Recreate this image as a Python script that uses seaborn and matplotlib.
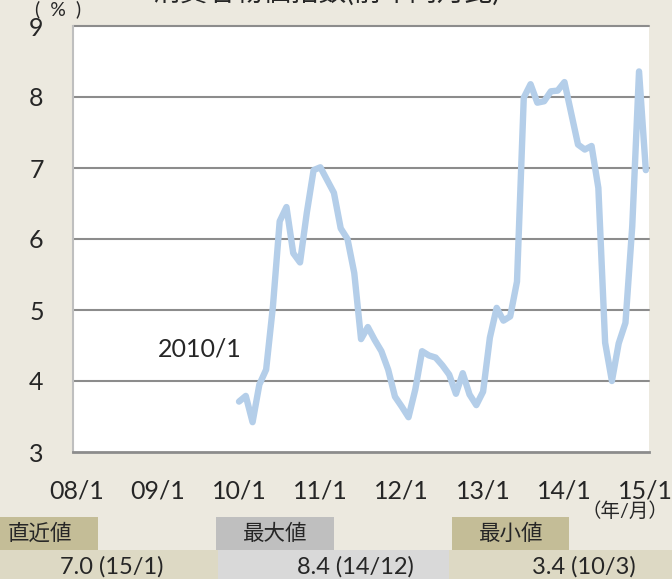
import numpy as np
import pandas as pd
import matplotlib
matplotlib.use('Agg')
import matplotlib.pyplot as plt
from matplotlib.patches import Rectangle
import seaborn as sns

# 横軸のカテゴリ (08/1 ～ 15/1, 月次)
months = pd.date_range('2008-01', '2015-01', freq='MS')
year_labels = ['08/1', '09/1', '10/1', '11/1', '12/1', '13/1', '14/1', '15/1']

# 前年同月比 (%), 2010/1 から
cpi_start = '2010-01'
cpi = [3.71, 3.79, 3.42, 3.95, 4.16, 5.05, 6.25, 6.45, 5.80, 5.67, 6.37, 6.97,   # 2010
       7.01, 6.83, 6.65, 6.15, 6.00, 5.52, 4.59, 4.76, 4.58, 4.42, 4.16, 3.78,    # 2011
       3.64, 3.49, 3.88, 4.42, 4.36, 4.33, 4.22, 4.09, 3.82, 4.11, 3.81, 3.66,    # 2012
       3.85, 4.61, 5.03, 4.85, 4.91, 5.40, 7.99, 8.18, 7.92, 7.94, 8.08, 8.09,    # 2013
       8.21, 7.77, 7.33, 7.26, 7.31, 6.72, 4.54, 4.00, 4.53, 4.82, 6.18, 8.36,    # 2014
       6.97]                                                                      # 2015
stat_labels = ['直近値', '最大値', '最小値']

BG = '#ECE9DF'
W, H = 672, 579

df = pd.DataFrame({'month': pd.date_range(cpi_start, periods=len(cpi), freq='MS'), 'cpi': cpi})
df['pos'] = df['month'].map({m: i for i, m in enumerate(months)})

sns.set_style('white')
plt.rcParams['font.family'] = ['Lato', 'Noto Sans CJK JP', 'DejaVu Sans']

fig = plt.figure(figsize=(W / 100, H / 100), dpi=100, facecolor=BG)
ax = fig.add_axes([72.9 / W, 1 - 452 / H, (649.2 - 72.9) / W, (452 - 26) / H])
ax.set_facecolor('white')

# グリッド線
for v in range(4, 10):
    ax.axhline(v, color='#8C8C8C', lw=1.5, zorder=1, clip_on=False)

sns.lineplot(data=df, x='pos', y='cpi', ax=ax, color='#B4CEE9', linewidth=4.6,
             solid_capstyle='round', zorder=3)

ax.set_xlim(-0.5, len(months) - 0.5)
ax.set_ylim(3, 9)
ax.set_xlabel('')
ax.set_ylabel('')

ax.set_yticks(range(3, 10))
ax.tick_params(axis='y', length=0, pad=21, labelsize=18)

label_pos = np.arange(0, len(months), 12)
ax.set_xticks(label_pos - 0.5)
ax.set_xticklabels([])
ax.set_xticks(label_pos, minor=True)
ax.set_xticklabels(year_labels, minor=True)
ax.tick_params(axis='x', which='major', direction='in', length=6, width=1.5,
               color='#8C8C8C', labelbottom=False)
ax.tick_params(axis='x', which='minor', length=0, pad=20, labelsize=18)

for s in ['top', 'right']:
    ax.spines[s].set_visible(False)
ax.spines['left'].set_color('#BFBFBF')
ax.spines['left'].set_linewidth(1.5)
ax.spines['bottom'].set_color('#8C8C8C')
ax.spines['bottom'].set_linewidth(2)

ax.text(18.25, 4.45, '2010/1', ha='center', va='center', fontsize=18)

# タイトル (上端で切れている)
fig.text(327 / W, 1 - 1 / H, '消費者物価指数(前年同月比)', ha='center', va='baseline', fontsize=20)
fig.text(58 / W, 1 - 9 / H, '(  %  )', ha='center', va='center', fontsize=14)
fig.text(625 / W, 1 - 511 / H, '（年/月）', ha='center', va='center', fontsize=14)

# 下の表
def cell(x0, x1, y0, y1, color):
    fig.add_artist(Rectangle((x0 / W, 1 - y1 / H), (x1 - x0) / W, (y1 - y0) / H,
                             transform=fig.transFigure, facecolor=color, edgecolor='none'))

latest = df.iloc[-1]
mx = df.loc[df['cpi'].idxmax()]
mn = df.loc[df['cpi'].idxmin()]
fmt = lambda r: f"{r['cpi']:.1f} ({r['month']:%y}/{r['month'].month})"
stat_values = [fmt(latest), fmt(mx), fmt(mn)]

head_cells = [(0, 98, '#C4BD97'), (216, 334, '#BFBFBF'), (452, 569, '#C4BD97')]
val_cells = [(0, 218, '#DDD9C4'), (218, 449, '#D9D9D9'), (449, 672, '#DDD9C4')]
for (x0, x1, c) in head_cells:
    cell(x0, x1, 517, 550, c)
for (x0, x1, c) in val_cells:
    cell(x0, x1, 550, 579, c)

fig.text(8 / W, 1 - 534 / H, stat_labels[0], ha='left', va='center', fontsize=15.5, color='#262626')
fig.text(275 / W, 1 - 534 / H, stat_labels[1], ha='center', va='center', fontsize=15.5, color='#262626')
fig.text(511 / W, 1 - 534 / H, stat_labels[2], ha='center', va='center', fontsize=15.5, color='#262626')
for xc, t in zip([112, 355, 584], stat_values):
    fig.text(xc / W, 1 - 567 / H, t, ha='center', va='center', fontsize=17, color='#262626')

fig.savefig('out.png', dpi=100, facecolor=BG)
